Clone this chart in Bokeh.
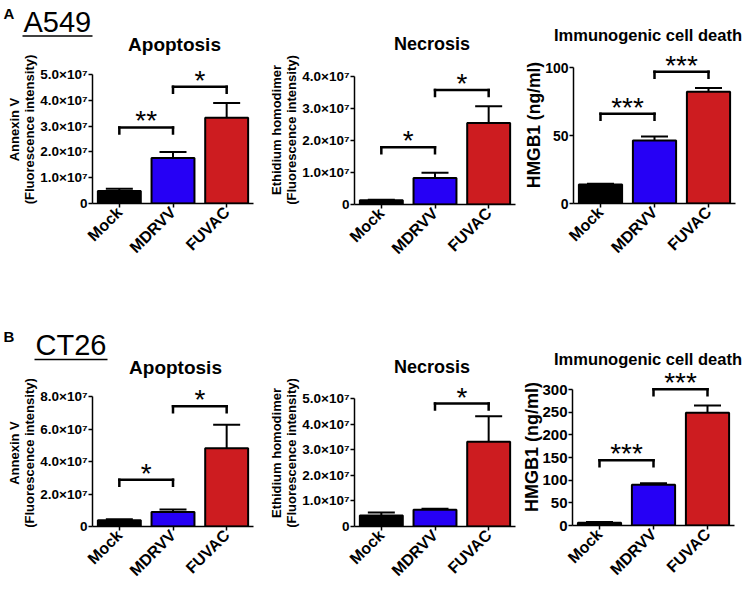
import math
from bokeh.plotting import figure
from bokeh.models import (FactorRange, Range1d, FixedTicker, ColumnDataSource, Whisker,
                          TeeHead, LabelSet, Label)
from bokeh.layouts import column, row
from bokeh.transform import dodge
from bokeh.core.properties import value
from bokeh.embed import file_html
from bokeh.resources import INLINE

# ---------------- data ----------------
categories = ["Mock", "MDRVV", "FUVAC"]
bar_colors = ["#000000", "#2600f5", "#cd1c20"]

# A549
a549_apoptosis_mean = [0.48e7, 1.76e7, 3.32e7]
a549_apoptosis_sem = [0.09e7, 0.24e7, 0.58e7]
a549_necrosis_mean = [0.13e7, 0.83e7, 2.55e7]
a549_necrosis_sem = [0.02e7, 0.16e7, 0.52e7]
a549_hmgb1_mean = [14.0, 46.3, 82.2]
a549_hmgb1_sem = [0.6, 2.9, 2.7]

# CT26
ct26_apoptosis_mean = [0.38e7, 0.90e7, 4.81e7]
ct26_apoptosis_sem = [0.07e7, 0.15e7, 1.45e7]
ct26_necrosis_mean = [0.43e7, 0.65e7, 3.31e7]
ct26_necrosis_sem = [0.12e7, 0.04e7, 1.00e7]
ct26_hmgb1_mean = [6.0, 90.0, 248.7]
ct26_hmgb1_sem = [1.5, 3.0, 16.0]

# significance brackets
a549_apoptosis_sig_left = ["Mock", "MDRVV"]
a549_apoptosis_sig_right = ["MDRVV", "FUVAC"]
a549_apoptosis_sig_level = [2.95e7, 4.53e7]
a549_apoptosis_sig_text = ["**", "*"]

a549_necrosis_sig_left = ["Mock", "MDRVV"]
a549_necrosis_sig_right = ["MDRVV", "FUVAC"]
a549_necrosis_sig_level = [1.79e7, 3.58e7]
a549_necrosis_sig_text = ["*", "*"]

a549_hmgb1_sig_left = ["Mock", "MDRVV"]
a549_hmgb1_sig_right = ["MDRVV", "FUVAC"]
a549_hmgb1_sig_level = [66.0, 96.8]
a549_hmgb1_sig_text = ["***", "***"]

ct26_apoptosis_sig_left = ["Mock", "MDRVV"]
ct26_apoptosis_sig_right = ["MDRVV", "FUVAC"]
ct26_apoptosis_sig_level = [2.88e7, 7.4e7]
ct26_apoptosis_sig_text = ["*", "*"]

ct26_necrosis_sig_left = ["MDRVV"]
ct26_necrosis_sig_right = ["FUVAC"]
ct26_necrosis_sig_level = [4.80e7]
ct26_necrosis_sig_text = ["*"]

ct26_hmgb1_sig_left = ["Mock", "MDRVV"]
ct26_hmgb1_sig_right = ["MDRVV", "FUVAC"]
ct26_hmgb1_sig_level = [143.7, 300.7]
ct26_hmgb1_sig_text = ["***", "***"]

# axis ticks
ticks_fluor_5 = [0, 1e7, 2e7, 3e7, 4e7, 5e7]
labels_fluor_5 = ["0", "1.0×10⁷", "2.0×10⁷", "3.0×10⁷", "4.0×10⁷", "5.0×10⁷"]
ticks_fluor_4 = [0, 1e7, 2e7, 3e7, 4e7]
labels_fluor_4 = ["0", "1.0×10⁷", "2.0×10⁷", "3.0×10⁷", "4.0×10⁷"]
ticks_fluor_8 = [0, 2e7, 4e7, 6e7, 8e7]
labels_fluor_8 = ["0", "2.0×10⁷", "4.0×10⁷", "6.0×10⁷", "8.0×10⁷"]
ticks_hmgb1_100 = [0, 50, 100]
labels_hmgb1_100 = ["0", "50", "100"]
ticks_hmgb1_300 = [0, 50, 100, 150, 200, 250, 300]
labels_hmgb1_300 = ["0", "50", "100", "150", "200", "250", "300"]

# ---------------- drawing ----------------
FONT = "Liberation Sans"


def make_panel(mean, sem, ticks, tick_labels, ylabel, sig_left, sig_right, sig_level, sig_text,
               width, height, bl, br, bb, pad_top, tick_size, ylabel_size, label_standoff):
    ymax = ticks[-1]
    frame_h = height - bb
    tick_h = frame_h - pad_top
    y_end = ymax * frame_h / tick_h
    p = figure(width=width, height=height, title=None,
               x_range=FactorRange(*categories, range_padding=0),
               y_range=Range1d(0, y_end),
               output_backend="svg", toolbar_location=None,
               min_border_left=bl, min_border_top=0, min_border_right=br, min_border_bottom=bb)
    p.outline_line_color = None
    p.xgrid.visible = False
    p.ygrid.visible = False
    p.background_fill_color = "white"
    p.border_fill_color = "white"

    src = ColumnDataSource(dict(cat=categories, mean=mean,
                                upper=[m + s for m, s in zip(mean, sem)],
                                color=bar_colors))
    p.vbar(x="cat", top="mean", width=0.8, source=src, fill_color="color",
           line_color="black", line_width=2)
    p.add_layout(Whisker(source=src, base="cat", lower="mean", upper="upper",
                         line_color="black", line_width=2, lower_head=None,
                         upper_head=TeeHead(size=27, line_color="black", line_width=2)))

    drop = 6.0 * ymax / tick_h
    x0, x1, y0, y1 = [], [], [], []
    for l, r, lev in zip(sig_left, sig_right, sig_level):
        x0 += [l, l, r]
        x1 += [r, l, r]
        y0 += [lev, lev, lev]
        y1 += [lev, lev - drop, lev - drop]
    p.segment(x0=x0, x1=x1, y0=y0, y1=y1, line_color="black", line_width=2.5,
              line_cap="square")
    ssrc = ColumnDataSource(dict(left=sig_left, level=sig_level, text=sig_text))
    p.add_layout(LabelSet(x=dodge("left", 0.5, range=p.x_range), y="level", text="text",
                          source=ssrc, text_align="center", text_baseline="alphabetic",
                          y_offset=-3, text_font=value(FONT), text_font_size="28px",
                          text_color="black"))

    # axes
    for ax in (p.xaxis[0], p.yaxis[0]):
        ax.axis_line_width = 1.5
        ax.axis_line_color = "black"
        ax.major_tick_line_width = 1.5
        ax.major_tick_line_color = "black"
        ax.major_tick_in = 0
        ax.major_tick_out = 4
        ax.minor_tick_in = 0
        ax.minor_tick_out = 0
        ax.major_label_text_font = FONT
        ax.major_label_text_font_style = "bold"
        ax.major_label_text_color = "black"
    yax = p.yaxis[0]
    yax.ticker = FixedTicker(ticks=ticks)
    yax.bounds = (0, ymax)
    yax.major_label_overrides = {float(t): lab for t, lab in zip(ticks, tick_labels)}
    yax.major_label_text_font_size = tick_size
    yax.major_label_standoff = 1
    yax.axis_label = ylabel
    yax.axis_label_text_font = FONT
    yax.axis_label_text_font_style = "bold"
    yax.axis_label_text_font_size = ylabel_size
    yax.axis_label_text_line_height = 1.0
    yax.axis_label_standoff = label_standoff
    yax.axis_label_text_color = "black"
    xax = p.xaxis[0]
    xax.major_label_orientation = math.pi / 4
    xax.major_label_text_font_size = "16px"
    xax.major_label_standoff = 2
    return p


def make_header(width, height):
    h = figure(width=width, height=height, title=None,
               x_range=Range1d(0, width), y_range=Range1d(height, 0),
               x_axis_type=None, y_axis_type=None,
               output_backend="svg", toolbar_location=None, min_border=0)
    h.outline_line_color = None
    h.grid.visible = False
    h.background_fill_color = "white"
    h.border_fill_color = "white"
    return h


def header_text(h, x, baseline, text, size, style="bold", align="left"):
    # the label is anchored on the middle of its em box, so lift it from the wanted baseline
    h.add_layout(Label(x=x, y=baseline - 0.3465 * size, text=text, text_font=FONT,
                       text_font_size=f"{size}px", text_font_style=style, text_align=align,
                       text_baseline="middle", text_color="black"))


def header_underline(h, x0, x1, y):
    h.segment(x0=[x0], x1=[x1], y0=[y], y1=[y], line_color="black", line_width=1.5)


FL = "(Fluorescence intensity)"

a1 = make_panel(a549_apoptosis_mean, a549_apoptosis_sem, ticks_fluor_5, labels_fluor_5,
                "Annexin V\n" + FL, a549_apoptosis_sig_left, a549_apoptosis_sig_right,
                a549_apoptosis_sig_level, a549_apoptosis_sig_text,
                258, 240, 92, 5, 92, 19, "13.5px", "13px", 0)
a2 = make_panel(a549_necrosis_mean, a549_necrosis_sem, ticks_fluor_4, labels_fluor_4,
                "Ethidium homodimer\n" + FL, a549_necrosis_sig_left, a549_necrosis_sig_right,
                a549_necrosis_sig_level, a549_necrosis_sig_text,
                258, 240, 96, 1, 91, 21, "13.5px", "13px", 0)
a3 = make_panel(a549_hmgb1_mean, a549_hmgb1_sem, ticks_hmgb1_100, labels_hmgb1_100,
                "HMGB1 (ng/ml)", a549_hmgb1_sig_left, a549_hmgb1_sig_right,
                a549_hmgb1_sig_level, a549_hmgb1_sig_text,
                229, 249, 57, 10, 92, 21, "14px", "17.5px", -2)
b1 = make_panel(ct26_apoptosis_mean, ct26_apoptosis_sem, ticks_fluor_8, labels_fluor_8,
                "Annexin V\n" + FL, ct26_apoptosis_sig_left, ct26_apoptosis_sig_right,
                ct26_apoptosis_sig_level, ct26_apoptosis_sig_text,
                258, 211, 92, 5, 64, 17, "13.5px", "13px", 0)
b2 = make_panel(ct26_necrosis_mean, ct26_necrosis_sem, ticks_fluor_5, labels_fluor_5,
                "Ethidium homodimer\n" + FL, ct26_necrosis_sig_left, ct26_necrosis_sig_right,
                ct26_necrosis_sig_level, ct26_necrosis_sig_text,
                258, 211, 96, 1, 64, 19, "13.5px", "13px", 0)
b3 = make_panel(ct26_hmgb1_mean, ct26_hmgb1_sem, ticks_hmgb1_300, labels_hmgb1_300,
                "HMGB1 (ng/ml)", ct26_hmgb1_sig_left, ct26_hmgb1_sig_right,
                ct26_hmgb1_sig_level, ct26_hmgb1_sig_text,
                229, 222, 56, 11, 65, 21, "15px", "18px", -3)

# headers: panel letters, cell-line names and panel titles
hA1 = make_header(258, 55)
header_text(hA1, 3, 18, "A", 15)
header_text(hA1, 23, 32, "A549", 29, style="normal")
header_underline(hA1, 22, 92, 35.5)
header_text(hA1, 174, 50.5, "Apoptosis", 19, align="center")
hA2 = make_header(258, 55)
header_text(hA2, 173.5, 50.2, "Necrosis", 18, align="center")
hA3 = make_header(229, 46)
header_text(hA3, 131.5, 40, "Immunogenic cell death", 16.5, align="center")

hB1 = make_header(258, 84)
header_text(hB1, 3, 45.7, "B", 15)
header_text(hB1, 35, 60, "CT26", 29, style="normal")
header_underline(hB1, 34, 107, 64)
header_text(hB1, 175, 78.6, "Apoptosis", 19, align="center")
hB2 = make_header(258, 84)
header_text(hB2, 173.5, 78, "Necrosis", 18, align="center")
hB3 = make_header(229, 73)
header_text(hB3, 131.5, 69, "Immunogenic cell death", 16.5, align="center")


def cell(header, panel):
    # wrap each piece separately so the header frame is not aligned to the panel frame
    return column(row(header, spacing=0), row(panel, spacing=0), spacing=0)


row_a = row(cell(hA1, a1), cell(hA2, a2), cell(hA3, a3), spacing=0)
row_b = row(cell(hB1, b1), cell(hB2, b2), cell(hB3, b3), spacing=0)
layout = column(row_a, row_b, spacing=0)

with open("out.html", "w") as f:
    f.write(file_html(layout, INLINE))
